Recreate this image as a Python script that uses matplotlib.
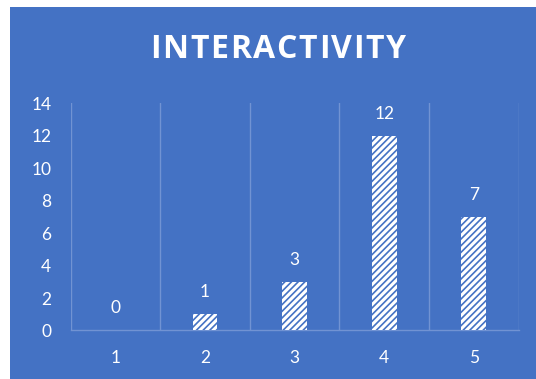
import matplotlib
matplotlib.use("Agg")
import matplotlib.pyplot as plt
from matplotlib.ticker import MultipleLocator

# Survey ratings for interactivity
categories = ["1", "2", "3", "4", "5"]
counts = [0, 1, 3, 12, 7]
title = "INTERACTIVITY"

BG = "#4472C4"
GRID = "#7193D3"
TXT = "#FFFFFF"

plt.rcParams["hatch.linewidth"] = 1.2
plt.rcParams["font.family"] = ["Lato", "DejaVu Sans"]

W, H = 536, 379
fig = plt.figure(figsize=(W / 100, H / 100), dpi=100, facecolor="white")

# blue chart panel
bg = fig.add_axes([10 / W, 0, 1 - 10 / W, 1 - 7 / H], zorder=0)
bg.set_facecolor(BG)
bg.set_xticks([])
bg.set_yticks([])
for s in bg.spines.values():
    s.set_visible(False)

ax = fig.add_axes([0.1319, 0.128, 0.8356, 0.5994], zorder=1)
ax.set_facecolor("none")

x = list(range(1, len(categories) + 1))
ax.bar(x, counts, width=0.275, color="white", edgecolor=BG,
       linewidth=0, hatch="/////", zorder=3)

for xi, v in zip(x, counts):
    ax.annotate(str(v), (xi, v), xytext=(0, 16), textcoords="offset points",
                ha="center", va="center", color=TXT, fontsize=12.5)

ax.set_xlim(0.5, 5.5)
ax.set_ylim(0, 14)
ax.yaxis.set_major_locator(MultipleLocator(2))
ax.set_xticks(x)
ax.set_xticklabels(categories)

# vertical category separators
for b in [i + 0.5 for i in range(0, 6)]:
    ax.axvline(b, color=GRID, linewidth=1.0, zorder=1)

for side in ["top", "right", "left"]:
    ax.spines[side].set_visible(False)
ax.spines["bottom"].set_color(GRID)
ax.spines["bottom"].set_linewidth(1.0)

ax.tick_params(axis="both", length=0, colors=TXT, labelsize=12.5)
ax.tick_params(axis="y", pad=14)
ax.tick_params(axis="x", pad=14)

# letter-spaced title
renderer = fig.canvas.get_renderer()
tkw = dict(color=TXT, fontsize=23, fontweight="bold",
           family=["Open Sans", "DejaVu Sans"], va="center", ha="left")
spacing = 1.7  # extra pixels between letters
widths = []
for ch in title:
    t = fig.text(0, 0, ch, **tkw)
    widths.append(t.get_window_extent(renderer).width)
    t.remove()
total = sum(widths) + spacing * (len(title) - 1)
cx = 278.0
xpos = cx - total / 2
ty = 1 - 50 / H
for ch, w in zip(title, widths):
    fig.text(xpos / W, ty, ch, **tkw)
    xpos += w + spacing

fig.savefig("out.png", dpi=100, facecolor="white")
